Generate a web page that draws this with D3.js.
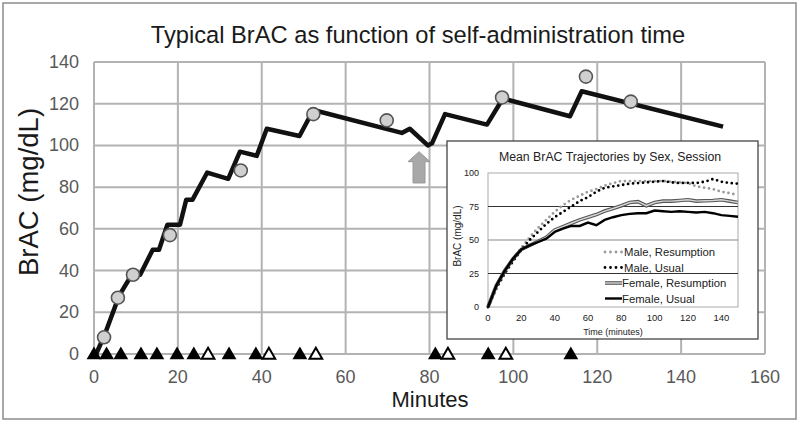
<!doctype html>
<html>
<head>
<meta charset="utf-8">
<style>
  body { margin: 0; background: #fff; }
  text { font-family: "Liberation Sans", Arial, sans-serif; }
</style>
<script src="https://d3js.org/d3.v7.min.js"></script>
</head>
<body>
<svg width="800" height="423"></svg>
<script>
// main chart: typical BrAC curve (minutes, mg/dL)
var curveMin = [0.5, 2.5, 6, 9, 11, 14, 15.5, 17.5, 20.5, 22, 23.5, 27, 32, 34.8, 38.8, 41.2, 49, 52.3, 73.4, 75.3, 79.6, 80.6, 83.7, 93.7, 97.5, 113.5, 116.3, 150];
var curveVal = [0, 9, 28, 38, 38, 50, 50, 62, 62, 74, 74, 87, 84, 97, 95, 108, 104.5, 117, 106, 108, 100, 101, 115, 110, 122.5, 114, 126, 109];
// measured BrAC readings (grey circles)
var readMin = [2.4, 5.7, 9.3, 18.1, 35, 52.3, 69.8, 97.3, 117.3, 128];
var readVal = [8, 27, 38, 57, 88, 115, 112, 123, 133, 121];
// drink times (filled) and open triangles
var drinkMin = [0, 3, 6.4, 11.2, 15, 19.8, 23.8, 32.2, 38.6, 49.1, 81.4, 94, 113.7];
var openMin = [27.2, 41.7, 52.9, 84.4, 98.2];
var xTicks = [0, 20, 40, 60, 80, 100, 120, 140, 160];
var yTicks = [0, 20, 40, 60, 80, 100, 120, 140];
var arrowMin = 77.5, arrowFrom = 82, arrowTo = 97;

// inset: mean trajectories
var insetT = [0, 5, 10, 15, 20, 25, 30, 35, 40, 45, 50, 55, 60, 65, 70, 75, 80, 85, 90, 95, 100, 105, 110, 115, 120, 125, 130, 135, 140, 145, 150];
var maleResump = [0, 14, 25, 36, 44, 52, 59, 65, 71, 76, 80, 83, 86, 88, 90.5, 92.5, 94, 94, 94, 94, 94, 94, 93.5, 93, 92.5, 90, 89, 88, 86, 85, 83.5];
var maleUsual = [0, 14, 25, 34, 42.5, 50, 56, 62, 67, 71, 75, 79, 82, 86, 89, 90, 91, 92, 92.5, 93, 93.5, 94, 93, 92.5, 92.7, 92.5, 93.5, 95.5, 93.5, 92.5, 92];
var femResump = [0, 16, 27, 36, 43, 46, 49, 52, 57.5, 60, 62.5, 65, 67, 69, 71.6, 73.5, 75.6, 78, 78.6, 75.6, 78, 79, 79, 79.5, 80, 79, 79.3, 79.5, 80, 79, 78];
var femUsual = [0, 16, 27, 36, 43, 46, 48.5, 51, 56, 58.5, 60.5, 60.5, 63, 61, 65, 67, 68.6, 69.5, 70, 70, 72, 71.5, 71, 71.5, 71, 70.5, 71, 70, 68.6, 68, 67.4];
var insetXTicks = [0, 20, 40, 60, 80, 100, 120, 140];
var insetYTicks = [0, 25, 50, 75, 100];
var legendNames = ["Male, Resumption", "Male, Usual", "Female, Resumption", "Female, Usual"];

var svg = d3.select("svg");

svg.append("rect").attr("x", 3).attr("y", 3).attr("width", 793).attr("height", 416)
   .attr("fill", "#fff").attr("stroke", "#8c8c8c").attr("stroke-width", 1.5);

var x = d3.scaleLinear().domain([0, 160]).range([94, 765]);
var y = d3.scaleLinear().domain([0, 140]).range([354, 62]);

// gridlines
svg.append("g").selectAll("line").data(xTicks).enter().append("line")
   .attr("x1", d => x(d)).attr("x2", d => x(d)).attr("y1", y(0)).attr("y2", y(140))
   .attr("stroke", "#b3b3b3").attr("stroke-width", 2);
svg.append("g").selectAll("line").data(yTicks).enter().append("line")
   .attr("x1", x(0)).attr("x2", x(160)).attr("y1", d => y(d)).attr("y2", d => y(d))
   .attr("stroke", "#b3b3b3").attr("stroke-width", 2);

// tick labels
svg.append("g").selectAll("text").data(xTicks).enter().append("text")
   .attr("x", d => x(d)).attr("y", 383).attr("text-anchor", "middle")
   .attr("font-size", 18).attr("fill", "#595959").text(d => d);
svg.append("g").selectAll("text").data(yTicks).enter().append("text")
   .attr("x", 79).attr("y", d => y(d) + 6).attr("text-anchor", "end")
   .attr("font-size", 18).attr("fill", "#595959").text(d => d);

// titles
svg.append("text").attr("x", 418).attr("y", 43).attr("text-anchor", "middle")
   .attr("font-size", 23.7).attr("fill", "#1a1a1a").text("Typical BrAC as function of self-administration time");
svg.append("text").attr("x", 430).attr("y", 407).attr("text-anchor", "middle")
   .attr("font-size", 22).attr("fill", "#1a1a1a").text("Minutes");
svg.append("text").attr("transform", "translate(38,192) rotate(-90)").attr("text-anchor", "middle")
   .attr("font-size", 27.5).attr("fill", "#1a1a1a").text("BrAC (mg/dL)");

// arrow
var ax = x(arrowMin), aTop = y(arrowTo), aBot = y(arrowFrom);
svg.append("path")
   .attr("d", "M" + ax + "," + aTop + " L" + (ax + 11) + "," + (aTop + 10) + " L" + (ax + 6) + "," + (aTop + 10) +
              " L" + (ax + 6) + "," + aBot + " L" + (ax - 6) + "," + aBot + " L" + (ax - 6) + "," + (aTop + 10) +
              " L" + (ax - 11) + "," + (aTop + 10) + " Z")
   .attr("fill", "#a8a8a8").attr("stroke", "#999").attr("stroke-width", 1);

// main curve
var line = d3.line().x((d, i) => x(curveMin[i])).y(d => y(d));
svg.append("path").datum(curveVal).attr("d", line)
   .attr("fill", "none").attr("stroke", "#111").attr("stroke-width", 4.5).attr("stroke-linejoin", "round");

// readings
svg.append("g").selectAll("circle").data(readVal).enter().append("circle")
   .attr("cx", (d, i) => x(readMin[i])).attr("cy", d => y(d)).attr("r", 6.5)
   .attr("fill", "#d0d0d0").attr("stroke", "#555").attr("stroke-width", 1.6);

// triangles
var tri = d3.symbol().type(d3.symbolTriangle).size(95);
svg.append("g").selectAll("path").data(drinkMin).enter().append("path")
   .attr("d", tri).attr("transform", d => "translate(" + x(d) + "," + (y(0) + 1) + ")")
   .attr("fill", "#000");
svg.append("g").selectAll("path").data(openMin).enter().append("path")
   .attr("d", d3.symbol().type(d3.symbolTriangle).size(70))
   .attr("transform", d => "translate(" + x(d) + "," + (y(0) + 1) + ")")
   .attr("fill", "#fff").attr("stroke", "#000").attr("stroke-width", 2);

// ---- inset ----
var inset = svg.append("g");
inset.append("rect").attr("x", 447).attr("y", 141).attr("width", 311).attr("height", 198)
     .attr("fill", "#fff").attr("stroke", "#444").attr("stroke-width", 1.3);

var ix = d3.scaleLinear().domain([0, 150]).range([488, 738]);
var iy = d3.scaleLinear().domain([0, 100]).range([307, 173]);

inset.append("rect").attr("x", ix(0)).attr("y", iy(100)).attr("width", ix(150) - ix(0)).attr("height", iy(0) - iy(100))
     .attr("fill", "none").attr("stroke", "#aaa").attr("stroke-width", 1);
inset.append("g").selectAll("line").data([25, 50, 75]).enter().append("line")
     .attr("x1", ix(0)).attr("x2", ix(150)).attr("y1", d => iy(d)).attr("y2", d => iy(d))
     .attr("stroke", d => d == 50 ? "#888" : "#333").attr("stroke-width", 1.2);

inset.append("g").selectAll("text").data(insetXTicks).enter().append("text")
     .attr("x", d => ix(d)).attr("y", 321).attr("text-anchor", "middle")
     .attr("font-size", 9.5).attr("fill", "#222").text(d => d);
inset.append("g").selectAll("text").data(insetYTicks).enter().append("text")
     .attr("x", 479).attr("y", d => iy(d) + 3).attr("text-anchor", "end")
     .attr("font-size", 9).attr("fill", "#222").text(d => d);

inset.append("text").attr("x", 610).attr("y", 161).attr("text-anchor", "middle")
     .attr("font-size", 12.3).attr("fill", "#222").text("Mean BrAC Trajectories by Sex, Session");
inset.append("text").attr("x", 613).attr("y", 335).attr("text-anchor", "middle")
     .attr("font-size", 9).attr("fill", "#222").text("Time (minutes)");
inset.append("text").attr("transform", "translate(461,236) rotate(-90)").attr("text-anchor", "middle")
     .attr("font-size", 10).attr("fill", "#222").text("BrAC (mg/dL)");

var iline = d3.line().x((d, i) => ix(insetT[i])).y(d => iy(d));
function drawSeries(g, data, k) {
  if (k == 0 || k == 1) {
    g.append("path").datum(data).attr("d", iline).attr("fill", "none")
     .attr("stroke", k == 0 ? "#9a9a9a" : "#000").attr("stroke-width", 2.8)
     .attr("stroke-linecap", "round").attr("stroke-dasharray", "0,5");
  } else if (k == 2) {
    g.append("path").datum(data).attr("d", iline).attr("fill", "none")
     .attr("stroke", "#555").attr("stroke-width", 3.6);
    g.append("path").datum(data).attr("d", iline).attr("fill", "none")
     .attr("stroke", "#d6d6d6").attr("stroke-width", 1.4);
  } else {
    g.append("path").datum(data).attr("d", iline).attr("fill", "none")
     .attr("stroke", "#000").attr("stroke-width", 2.4);
  }
}
var series = [maleResump, maleUsual, femResump, femUsual];
series.forEach((s, k) => drawSeries(inset, s, k));

// legend
var legY = [252, 267.5, 283, 298.5];
legendNames.forEach(function(name, k) {
  var seg = [0, 0];
  var lg = d3.line().x((d, i) => 605 + i * 17).y(legY[k]);
  if (k == 0 || k == 1) {
    inset.append("path").datum(seg).attr("d", lg).attr("fill", "none")
      .attr("stroke", k == 0 ? "#9a9a9a" : "#000").attr("stroke-width", 2.8)
      .attr("stroke-linecap", "round").attr("stroke-dasharray", "0,5.5");
  } else if (k == 2) {
    inset.append("path").datum(seg).attr("d", lg).attr("stroke", "#555").attr("stroke-width", 3.6);
    inset.append("path").datum(seg).attr("d", lg).attr("stroke", "#d6d6d6").attr("stroke-width", 1.4);
  } else {
    inset.append("path").datum(seg).attr("d", lg).attr("stroke", "#000").attr("stroke-width", 2.4);
  }
  inset.append("text").attr("x", k < 2 ? 624 : 622).attr("y", legY[k] + 4)
    .attr("font-size", 11.3).attr("fill", "#222").text(name);
});
</script>
</body>
</html>
